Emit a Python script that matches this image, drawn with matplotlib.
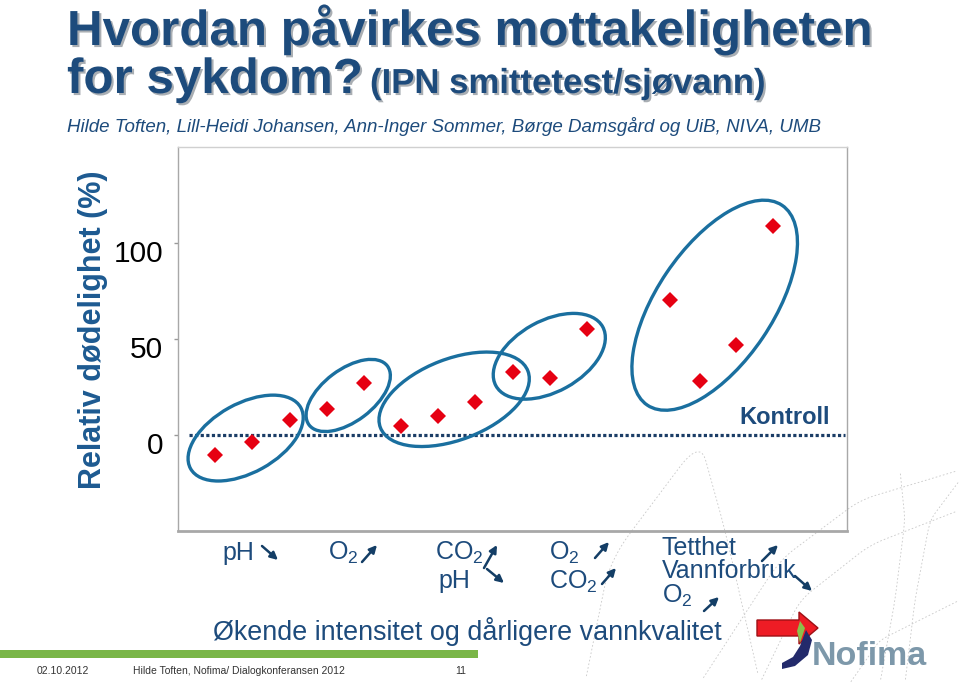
import matplotlib
matplotlib.use("Agg")
import matplotlib.pyplot as plt
import matplotlib.patheffects as pe
import numpy as np
from matplotlib.patches import Ellipse, Polygon, FancyArrowPatch
from matplotlib.transforms import ScaledTranslation

plt.rcParams['font.family'] = ['Liberation Sans', 'DejaVu Sans']

# data
group_x = [1, 2, 3, 4, 5, 6, 7, 8, 9, 10, 11, 13.25, 14.05, 15, 16]
mortality = [-10.4, -3.5, 7.8, 13.4, 26.9, 4.7, 10.1, 17.2, 32.8, 29.5, 55.2,
             70.5, 28.0, 46.7, 109.0]
yticks = [0, 50, 100]
control_level = 0

# ellipses round the groups: centre (data), width/height (px), angle
groups = [
    ((1.82, -1.6), 126, 69, 29),
    ((4.58, 20.6), 98, 52, 37),
    ((7.43, 18.6), 158, 81, 21),
    ((9.99, 41.0), 122, 71, 29),
    ((14.44, 67.6), 241, 116, 56),
]

NAVY = '#1d4b7c'
W, H = 960, 683

fig = plt.figure(figsize=(9.6, 6.83), dpi=100)
fig.patch.set_facecolor('white')


def fx(px):
    return px / W


def fy(py):
    return 1 - py / H


def inch(px, py):
    return (px / 100, (H - py) / 100)


# faint dotted swirls of the slide background
swirls = [
    [(585, 683), (610, 560), (700, 440), (725, 530), (760, 683)],
    [(760, 683), (800, 600), (870, 545), (960, 510)],
    [(700, 683), (780, 560), (860, 500), (960, 470)],
    [(880, 683), (895, 600), (905, 520), (900, 470)],
    [(905, 683), (915, 600), (930, 520), (960, 480)],
    [(850, 683), (880, 640), (960, 600)],
]
for pts in swirls:
    p = np.array(pts, dtype=float)
    t = np.linspace(0, 1, len(p))
    tt = np.linspace(0, 1, 80)
    xs = np.interp(tt, t, p[:, 0])
    ys = np.interp(tt, t, p[:, 1])
    k = np.ones(9) / 9
    xs = np.convolve(np.pad(xs, 4, mode='edge'), k, mode='valid')
    ys = np.convolve(np.pad(ys, 4, mode='edge'), k, mode='valid')
    fig.add_artist(plt.Line2D(xs / 100, (H - ys) / 100, transform=fig.dpi_scale_trans,
                              color='#c8c8c8', linewidth=0.6, linestyle=(0, (2, 2.5)),
                              zorder=0))

ax = fig.add_axes([fx(178), fy(531), 669 / W, 384 / H])
ax.set_xlim(0, 18)
ax.set_ylim(-50, 150)
ax.patch.set_alpha(0)

ax.hlines(control_level, 0.3, 17.95, colors='#1b3d66', linewidth=2.3,
          linestyles=(0, (1.0, 0.75)), zorder=2)
ax.plot(group_x, mortality, linestyle='none', marker='D', markersize=7.8,
        color='#e60012', markeredgewidth=0, zorder=4)

for (cx, cy), w, h, ang in groups:
    tr = fig.dpi_scale_trans + ScaledTranslation(cx, cy, ax.transData)
    ax.add_patch(Ellipse((0, 0), w / 100, h / 100, angle=ang, transform=tr,
                         fill=False, edgecolor='#1a6f9f', linewidth=2.4,
                         zorder=3))

ax.text(16.33, 9, 'Kontroll', ha='center', va='center', fontsize=17,
        fontweight='bold', color=NAVY)

ax.set_yticks(yticks)
ax.set_yticklabels([str(t) for t in yticks], fontsize=21.5, color='black')
ax.tick_params(axis='y', direction='out', length=3, width=1, color='#999999',
               pad=7.5)
for lab in ax.get_yticklabels():
    lab.set_transform(lab.get_transform() + ScaledTranslation(0, -0.08, fig.dpi_scale_trans))
ax.set_xticks([])
for side in ['left', 'right', 'top', 'bottom']:
    ax.spines[side].set_color('#a8a8a8')
    ax.spines[side].set_linewidth(1.0)
ax.spines['bottom'].set_linewidth(2.0)
ax.spines['top'].set_color('#d0d0d0')

fig.text(fx(93), fy(330), 'Relativ dødelighet (%)', rotation=90,
         ha='center', va='center', fontsize=22, fontweight='bold',
         color='#1d5a91')

# title block
shadow = [pe.SimplePatchShadow(offset=(1.5, -1.5), alpha=0.35), pe.Normal()]
fig.text(fx(67), fy(45), 'Hvordan påvirkes mottakeligheten', fontsize=35.5,
         fontweight='bold', color=NAVY, va='baseline', path_effects=shadow)
fig.text(fx(67), fy(93), 'for sykdom?', fontsize=35.5, fontweight='bold',
         color=NAVY, va='baseline', path_effects=shadow)
fig.text(fx(370), fy(93), '(IPN smittetest/sjøvann)', fontsize=25,
         fontweight='bold', color=NAVY, va='baseline', path_effects=shadow)
fig.text(fx(67), fy(132),
         'Hilde Toften, Lill-Heidi Johansen, Ann-Inger Sommer, Børge Damsgård og UiB, NIVA, UMB',
         fontsize=13.5, style='italic', color=NAVY, va='baseline')

# water quality notes under the chart
notes = [
    (222, 553, 'pH'),
    (328, 553, r'$\mathregular{O_2}$'),
    (435, 553, r'$\mathregular{CO_2}$'),
    (438, 581, 'pH'),
    (549, 553, r'$\mathregular{O_2}$'),
    (549, 582, r'$\mathregular{CO_2}$'),
    (662, 548, 'Tetthet'),
    (662, 571, 'Vannforbruk'),
    (662, 596, r'$\mathregular{O_2}$'),
]
for px, py, s in notes:
    fig.text(fx(px), fy(py), s, fontsize=18, color=NAVY, va='center')

arrows = [
    ((262, 546), (278, 560)),
    ((362, 562), (377, 545)),
    ((484, 568), (497, 545)),
    ((487, 569), (504, 583)),
    ((595, 558), (609, 542)),
    ((602, 584), (616, 568)),
    ((762, 561), (778, 545)),
    ((795, 576), (812, 591)),
    ((704, 611), (719, 597)),
]
for a, b in arrows:
    fig.add_artist(FancyArrowPatch(inch(*a), inch(*b), transform=fig.dpi_scale_trans,
                                   arrowstyle='-|>', mutation_scale=11,
                                   linewidth=1.8, color='#143e66',
                                   shrinkA=0, shrinkB=0))

fig.text(fx(213), fy(632), 'Økende intensitet og dårligere vannkvalitet',
         fontsize=19.4, color=NAVY, va='center')

# red block arrow
red_arrow = [(757, 620), (799, 620), (799, 612), (818, 628), (799, 644),
             (799, 636), (757, 636)]
fig.add_artist(Polygon([inch(*p) for p in red_arrow], closed=True,
                       transform=fig.dpi_scale_trans, facecolor='#ee1c25',
                       edgecolor='#9e1015', linewidth=1.0))

# Nofima logo
swoosh = [(806, 630), (812, 640), (808, 655), (795, 666), (782, 669),
          (782, 663), (793, 657), (800, 646)]
fig.add_artist(Polygon([inch(*p) for p in swoosh], closed=True,
                       transform=fig.dpi_scale_trans, facecolor='#232a6b',
                       edgecolor='none'))
leaf = [(797, 631), (800, 621), (805, 628), (800, 643)]
fig.add_artist(Polygon([inch(*p) for p in leaf], closed=True,
                       transform=fig.dpi_scale_trans, facecolor='#8cc04b',
                       edgecolor='none'))
fig.text(fx(812), fy(665), 'Nofima', fontsize=24.5, fontweight='bold',
         color='#7d98aa', va='baseline')

# footer
fig.add_artist(Polygon([inch(0, 650), inch(478, 650), inch(478, 658), inch(0, 658)],
                       closed=True, transform=fig.dpi_scale_trans,
                       facecolor='#7ab648', edgecolor='none'))
fig.text(fx(37), fy(671), '02.10.2012', fontsize=7.5, color='#333333', va='center')
fig.text(fx(133), fy(671), 'Hilde Toften, Nofima/ Dialogkonferansen 2012',
         fontsize=7.5, color='#333333', va='center')
fig.text(fx(455), fy(671), '11', fontsize=7.5, color='#333333', va='center')

fig.savefig('out.png', dpi=100)
